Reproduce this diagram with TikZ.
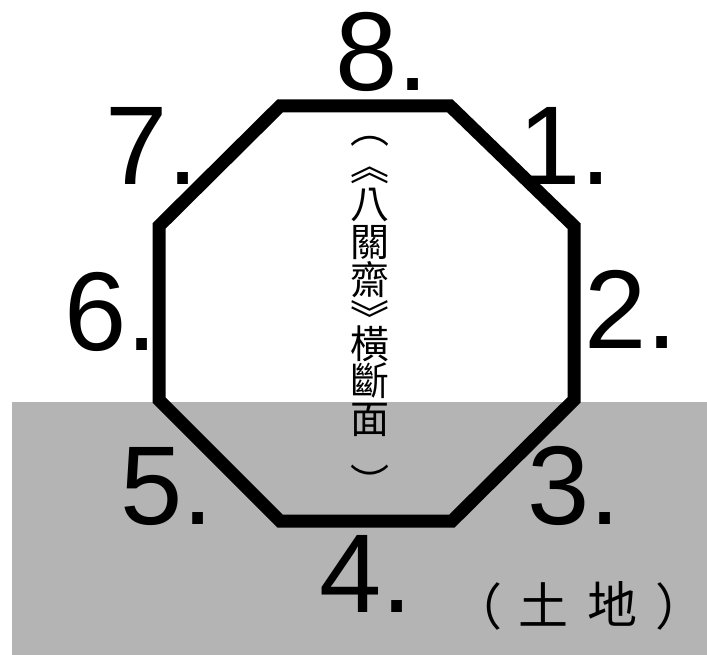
\documentclass[tikz,border=0pt]{standalone}
\usepackage{fontspec}
\setmainfont{Liberation Sans}
\newfontfamily\cjk{Noto Sans CJK TC}
\definecolor{ground}{RGB}{180,180,180}
\tikzset{
  num/.style={anchor=base west, inner sep=0pt, font=\fontsize{112}{112}\selectfont},
  vch/.style={anchor=center, inner sep=0pt, font=\cjk\fontsize{39}{39}\selectfont},
  gch/.style={anchor=center, inner sep=0pt, font=\cjk\fontsize{50}{50}\selectfont},
  wall/.style={line width=13pt, line join=miter}
}
\begin{document}
\begin{tikzpicture}[x=1pt, y=-1pt]
\useasboundingbox (0,0) rectangle (707,655);
\fill[white] (0,0) rectangle (707,655);
\fill[ground] (12,402) rectangle (707,655);
% octagon corners
\coordinate (p1) at (280,106);
\coordinate (p2) at (450,106);
\coordinate (p3) at (574,226);
\coordinate (p4) at (574,400);
\coordinate (p5) at (452,521);
\coordinate (p6) at (280,521);
\coordinate (p7) at (159,400);
\coordinate (p8) at (159,226);
\draw[wall] (p1) -- (p2) -- (p3) -- (p4) -- (p5) -- (p6) -- (p7) -- (p8) -- cycle;
% numbers
\node[num] (n8) at (335,91) {8.};
\node[num] (n7) at (105,185) {7.};
\node[num] (n1) at (518,185) {1.};
\node[num] (n2) at (584,348) {2.};
\node[num] (n6) at (64,350) {6.};
\node[num] (n5) at (120,524) {5.};
\node[num] (n3) at (527,524) {3.};
\node[num] (n4) at (319,612) {4.};
% vertical title
\node[vch] (v1) at (370,141) {︵};
\node[vch] (v2) at (370,175) {︽};
\node[vch] (v3) at (370,204.5) {八};
\node[vch] (v4) at (370,242.5) {關};
\node[vch] (v5) at (370,279.5) {齋};
\node[vch] (v6) at (370,317) {︾};
\node[vch] (v7) at (370,343.5) {橫};
\node[vch] (v8) at (370,380.5) {斷};
\node[vch] (v9) at (370,420) {面};
\node[vch] (v10) at (370,481) {︶};
% ground label
\node[gch] (g1) at (477,606) {（};
\node[gch] (g2) at (543,604) {土};
\node[gch] (g3) at (612,604) {地};
\node[gch] (g4) at (680,606) {）};
\end{tikzpicture}
\end{document}
